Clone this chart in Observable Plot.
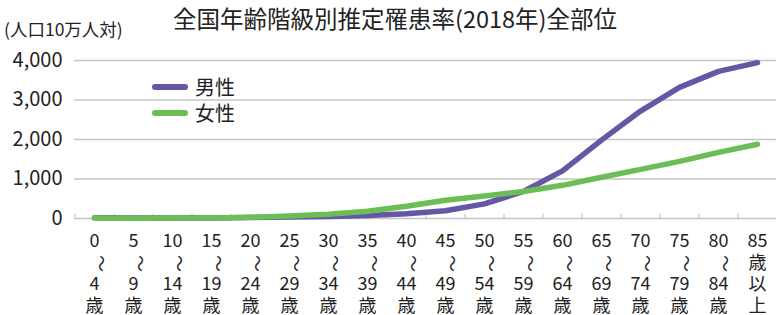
<!DOCTYPE html>
<html><head><meta charset="utf-8">
<script src="https://cdn.jsdelivr.net/npm/d3@7"></script>
<script src="https://cdn.jsdelivr.net/npm/@observablehq/plot@0.6"></script>
<style>
body{margin:0;background:#fff;font-family:"Noto Sans CJK JP","Noto Sans",sans-serif;color:#222;}
#wrap{position:relative;width:776px;height:315px;overflow:hidden;}
#wrap svg{position:absolute;left:0;top:0;}
.title{position:absolute;left:173px;top:4px;white-space:nowrap;font-size:23.5px;line-height:28px;}
.ylab{position:absolute;left:4px;top:18px;font-size:17.5px;line-height:22px;}
.leg{position:absolute;left:152px;font-size:20px;line-height:24px;display:flex;align-items:center;}
.leg span.sw{display:inline-block;width:36px;height:6px;border-radius:3px;margin-right:7px;}
</style></head>
<body><div id="wrap">
<div class="title">全国年齢階級別推定罹患率(2018年)全部位</div>
<div class="ylab">(人口10万人対)</div>
</div>
<script>
const categories = ["0～4歳","5～9歳","10～14歳","15～19歳","20～24歳","25～29歳","30～34歳","35～39歳","40～44歳","45～49歳","50～54歳","55～59歳","60～64歳","65～69歳","70～74歳","75～79歳","80～84歳","85歳以上"];
const labelLines = [["0","〜","4","歳"],["5","〜","9","歳"],["10","〜","14","歳"],["15","〜","19","歳"],["20","〜","24","歳"],["25","〜","29","歳"],["30","〜","34","歳"],["35","〜","39","歳"],["40","〜","44","歳"],["45","〜","49","歳"],["50","〜","54","歳"],["55","〜","59","歳"],["60","〜","64","歳"],["65","〜","69","歳"],["70","〜","74","歳"],["75","〜","79","歳"],["80","〜","84","歳"],["85","歳","以","上"]];
const male   = [16, 10, 11, 15, 24, 37, 52, 75, 120, 195, 370, 685, 1205, 1985, 2720, 3320, 3725, 3945];
const female = [14, 9, 10, 14, 30, 62, 108, 185, 310, 460, 570, 685, 840, 1045, 1245, 1445, 1675, 1880];
const yTicks = [0, 1000, 2000, 3000, 4000];
const seriesNames = ["男性","女性"];
const colors = ["#6556a6","#6cbd55"];

const data = [];
categories.forEach((c,i)=>{
  data.push({cat:c, sex:seriesNames[0], v:male[i]});
  data.push({cat:c, sex:seriesNames[1], v:female[i]});
});
const labels = categories.map((c,i)=>({cat:c, lines:labelLines[i]}));
const font = "Noto Sans CJK JP";
const rowDy = [28, 50, 71, 93];

const marks = [
  Plot.ruleY(yTicks, {y:d=>d, stroke:"#c4c4c4", strokeWidth:1.6}),
  Plot.ruleX(categories, {x:d=>d, dx:-19.5, y1:0, y2:110, stroke:"#c4c4c4", strokeWidth:1.2}),
  Plot.axisY({ticks:yTicks, tickSize:0, tickPadding:12, tickFormat:d=>d3.format(",")(d), fontSize:20, fontFamily:font, fill:"#222", label:null}),
  Plot.line(data, {x:"cat", y:"v", z:"sex", stroke:"sex", strokeWidth:5.5, curve:"linear", strokeLinecap:"round", strokeLinejoin:"round"})
];
for (let r=0;r<4;r++){
  if (r===1){
    marks.push(Plot.text(labels.filter(d=>d.lines[1]==="〜"), {x:"cat", text:d=>d.lines[1], frameAnchor:"bottom", dy:rowDy[r]-5, rotate:90, fontSize:17, fontFamily:font, fill:"#222"}));
    marks.push(Plot.text(labels.filter(d=>d.lines[1]!=="〜"), {x:"cat", text:d=>d.lines[1], frameAnchor:"bottom", dy:rowDy[r], fontSize:18, fontFamily:font, fill:"#222"}));
  } else {
    marks.push(Plot.text(labels, {x:"cat", text:d=>d.lines[r], frameAnchor:"bottom", dy:rowDy[r], fontSize:18, fontFamily:font, fill:"#222"}));
  }
}

const chart = Plot.plot({
  width:776, height:315,
  marginLeft:74, marginRight:0, marginTop:60, marginBottom:97,
  style:{background:"transparent", fontFamily:font},
  x:{type:"point", domain:categories, padding:0.5, axis:null},
  y:{domain:[0,4000], axis:null},
  color:{domain:seriesNames, range:colors},
  marks
});
const wrap = document.getElementById("wrap");
wrap.insertBefore(chart, wrap.firstChild);

const legTops = [75, 101];
seriesNames.forEach((s,i)=>{
  const d = document.createElement("div");
  d.className="leg"; d.style.top = legTops[i]+"px";
  d.innerHTML = `<span class="sw" style="background:${colors[i]}"></span>${s}`;
  wrap.appendChild(d);
});
</script>
</body></html>
